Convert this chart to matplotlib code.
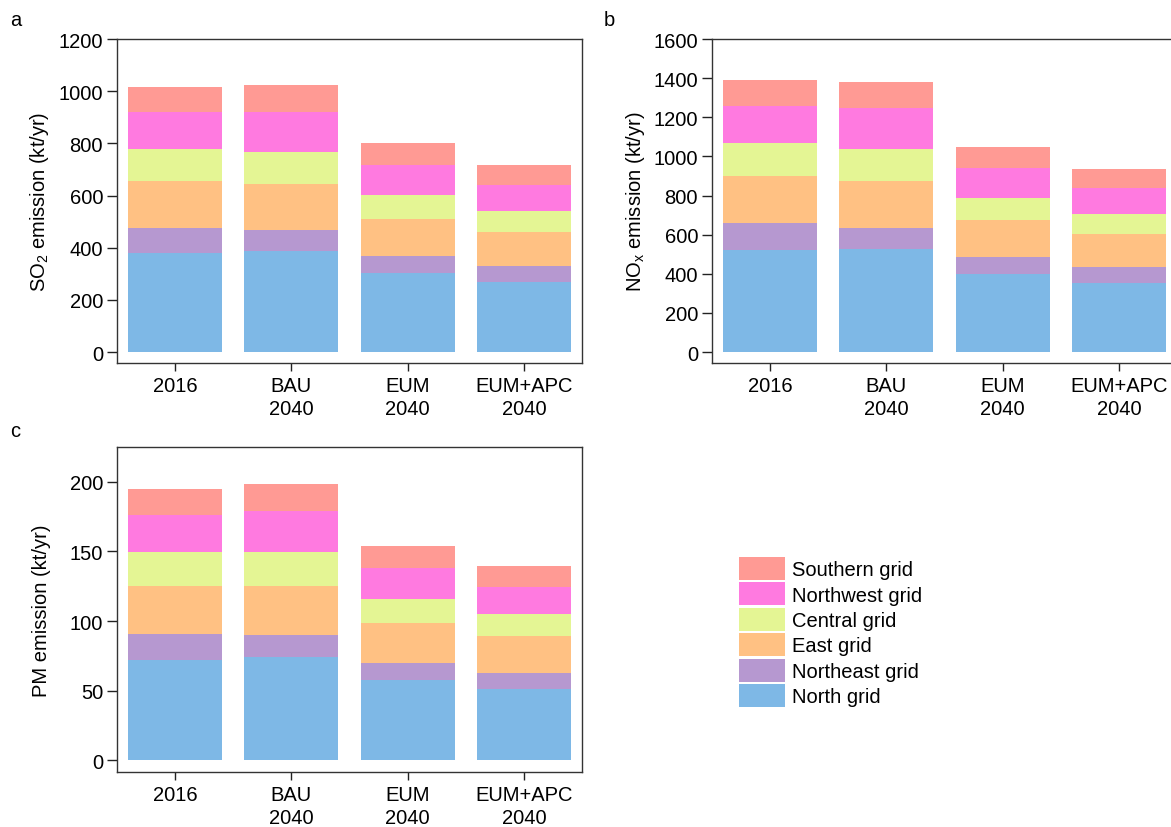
import matplotlib
matplotlib.use("Agg")
import matplotlib.pyplot as plt
import numpy as np

plt.rcParams['font.family'] = ['Liberation Sans', 'DejaVu Sans']
plt.rcParams['mathtext.fontset'] = 'custom'
plt.rcParams['mathtext.rm'] = 'Liberation Sans'
plt.rcParams['mathtext.default'] = 'regular'

scenarios = ["2016", "BAU\n2040", "EUM\n2040", "EUM+APC\n2040"]
grids = ["North grid", "Northeast grid", "East grid", "Central grid", "Northwest grid", "Southern grid"]
colors = ["#7EB8E6", "#B698D0", "#FFC183", "#E4F594", "#FF7AE0", "#FF9A94"]

# cumulative tops (bottom to top), converted to segment values
so2_cum = {
    "2016":    [380, 476, 654, 780, 919, 1015],
    "BAU":     [389, 468, 645, 767, 920, 1023],
    "EUM":     [304, 369, 511, 601, 717, 800],
    "EUM+APC": [269, 329, 461, 540, 640, 716],
}
nox_cum = {
    "2016":    [523, 660, 899, 1069, 1258, 1391],
    "BAU":     [529, 635, 873, 1038, 1248, 1382],
    "EUM":     [400, 487, 676, 788, 940, 1047],
    "EUM+APC": [352, 434, 604, 708, 837, 934],
}
pm_cum = {
    "2016":    [72.0, 90.7, 125.4, 149.8, 176.3, 194.5],
    "BAU":     [74.4, 90.0, 125.1, 149.3, 179.2, 198.3],
    "EUM":     [57.4, 70.1, 98.6, 116.0, 138.3, 153.8],
    "EUM+APC": [51.2, 62.9, 89.5, 105.3, 124.6, 139.2],
}

def segments(cum):
    arr = np.array([cum[k] for k in ["2016", "BAU", "EUM", "EUM+APC"]], dtype=float)
    seg = np.diff(np.concatenate([np.zeros((arr.shape[0], 1)), arr], axis=1), axis=1)
    return seg  # shape (4 scenarios, 6 grids)

fig = plt.figure(figsize=(11.71, 8.28), dpi=100)
W, H = 1171, 828

def make_ax(left, top, right, bottom):
    return fig.add_axes([left / W, 1 - bottom / H, (right - left) / W, (bottom - top) / H])

ax_a = make_ax(117, 40, 582, 364)
ax_b = make_ax(712, 40, 1177, 364)
ax_c = make_ax(117, 448, 582, 773)

FS = 14.5
x = np.arange(len(scenarios))

def draw(ax, cum, ylim, yticks, ylabel, labelx):
    seg = segments(cum)
    bottom = np.zeros(len(scenarios))
    handles = []
    for j, g in enumerate(grids):
        h = ax.bar(x, seg[:, j], width=0.81, bottom=bottom, color=colors[j],
                   edgecolor='none', label=g)
        handles.append(h)
        bottom += seg[:, j]
    ax.set_xlim(-0.5, 3.5)
    ax.set_ylim(*ylim)
    ax.set_yticks(yticks)
    ax.set_xticks(x)
    ax.set_xticklabels(scenarios, fontsize=FS, linespacing=1.25)
    ax.tick_params(axis='y', labelsize=FS, direction='out', length=7, width=1, pad=3, colors='#222222')
    ax.tick_params(axis='x', labelsize=FS, direction='out', length=5.5, width=1, pad=4, colors='#222222')
    for lab in ax.get_xticklabels() + ax.get_yticklabels():
        lab.set_color('black')
    for s in ax.spines.values():
        s.set_color('#333333')
        s.set_linewidth(1.0)
    ax.set_ylabel(ylabel, fontsize=FS)
    ax.yaxis.set_label_coords(labelx, 0.5)
    return handles

handles = draw(ax_a, so2_cum, (-42, 1200), [0, 200, 400, 600, 800, 1000, 1200],
               "SO$_2$ emission (kt/yr)", -0.142)
draw(ax_b, nox_cum, (-56, 1600), [0, 200, 400, 600, 800, 1000, 1200, 1400, 1600],
     "NO$_x$ emission (kt/yr)", -0.139)
draw(ax_c, pm_cum, (-8.4, 225), [0, 50, 100, 150, 200], "PM emission (kt/yr)", -0.142)

fig.text(10 / W, 1 - 20 / H, "a", fontsize=FS, va='center', ha='left')
fig.text(604 / W, 1 - 20 / H, "b", fontsize=FS, va='center', ha='left')
fig.text(10 / W, 1 - 432 / H, "c", fontsize=FS, va='center', ha='left')

fig.legend(handles[::-1], grids[::-1], loc='upper left',
           bbox_to_anchor=(739 / W, 1 - 558 / H), frameon=False, fontsize=FS,
           borderpad=0, borderaxespad=0, handlelength=2.3, handleheight=1.38,
           labelspacing=0.12, handletextpad=0.35)

fig.savefig("out.png", dpi=100)
